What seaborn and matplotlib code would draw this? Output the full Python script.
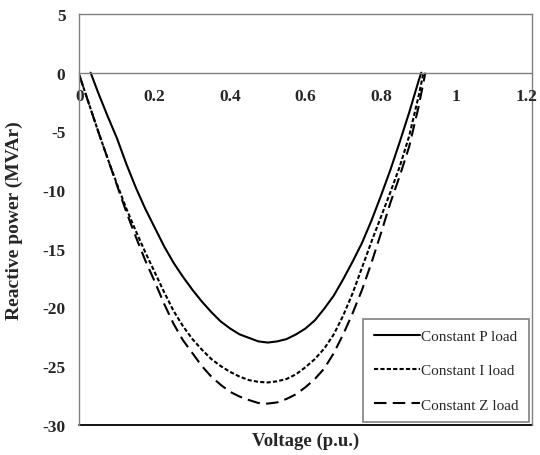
import matplotlib
matplotlib.use("Agg")
import matplotlib.pyplot as plt
import seaborn as sns
import pandas as pd

# ---- data ----
series_names = ["Constant P load", "Constant I load", "Constant Z load"]

v_p = [0.03, 0.05, 0.075, 0.10, 0.125, 0.15, 0.175, 0.20, 0.225, 0.25, 0.275,
       0.30, 0.325, 0.35, 0.375, 0.40, 0.425, 0.45, 0.475, 0.50, 0.525, 0.55,
       0.575, 0.60, 0.625, 0.65, 0.675, 0.70, 0.725, 0.75, 0.775, 0.80, 0.825,
       0.85, 0.875, 0.90, 0.907]
q_p = [0.0, -1.7, -3.7, -5.6, -7.8, -9.8, -11.6, -13.2, -14.8, -16.2, -17.4,
       -18.5, -19.5, -20.4, -21.2, -21.8, -22.3, -22.6, -22.9, -23.0, -22.9, -22.7,
       -22.3, -21.8, -21.1, -20.1, -19.0, -17.6, -16.1, -14.5, -12.6, -10.5, -8.3,
       -5.9, -3.4, -0.7, 0.0]

v_i = [0.0, 0.025, 0.05, 0.075, 0.10, 0.125, 0.15, 0.175, 0.20, 0.225, 0.25,
       0.275, 0.30, 0.325, 0.35, 0.375, 0.40, 0.425, 0.45, 0.475, 0.50, 0.525,
       0.55, 0.575, 0.60, 0.625, 0.65, 0.675, 0.70, 0.725, 0.75, 0.775, 0.80,
       0.825, 0.85, 0.875, 0.90, 0.913]
q_i = [-0.2, -2.6, -5.0, -7.3, -9.5, -11.6, -13.5, -15.3, -17.0, -18.7, -20.3,
       -21.6, -22.7, -23.6, -24.4, -25.0, -25.5, -25.9, -26.2, -26.35, -26.4, -26.3,
       -26.1, -25.7, -25.1, -24.4, -23.5, -22.3, -20.7, -18.8, -16.6, -14.4, -12.3,
       -10.2, -8.0, -5.4, -2.0, 0.0]

v_z = [0.0, 0.025, 0.05, 0.075, 0.10, 0.125, 0.15, 0.175, 0.20, 0.225, 0.25,
       0.275, 0.30, 0.325, 0.35, 0.375, 0.40, 0.425, 0.45, 0.475, 0.50, 0.525,
       0.55, 0.575, 0.60, 0.625, 0.65, 0.675, 0.70, 0.725, 0.75, 0.775, 0.80,
       0.825, 0.85, 0.875, 0.90, 0.918]
q_z = [-0.2, -2.6, -5.0, -7.3, -9.6, -11.9, -14.0, -16.0, -17.8, -19.7, -21.4,
       -22.8, -23.9, -25.0, -25.9, -26.6, -27.2, -27.6, -27.9, -28.15, -28.2, -28.1,
       -27.8, -27.4, -26.8, -26.1, -25.2, -23.9, -22.3, -20.5, -18.5, -16.2, -13.7,
       -11.1, -8.8, -6.3, -2.9, 0.0]

x_ticks = [0, 0.2, 0.4, 0.6, 0.8, 1.0, 1.2]
x_tick_labels = ["0", "0.2", "0.4", "0.6", "0.8", "1", "1.2"]
y_ticks = [-30, -25, -20, -15, -10, -5, 0, 5]
y_tick_labels = ["-30", "-25", "-20", "-15", "-10", "-5", "0", "5"]

# ---- style ----
sns.set_style("white")
plt.rcParams["font.family"] = ["Liberation Serif", "DejaVu Serif"]
plt.rcParams["font.weight"] = "bold"
plt.rcParams["axes.unicode_minus"] = False
plt.rcParams["lines.scale_dashes"] = False

df = pd.concat([
    pd.DataFrame({"V": v_p, "Q": q_p, "Load": series_names[0]}),
    pd.DataFrame({"V": v_i, "Q": q_i, "Load": series_names[1]}),
    pd.DataFrame({"V": v_z, "Q": q_z, "Load": series_names[2]}),
], ignore_index=True)

fig = plt.figure(figsize=(5.4, 4.56), dpi=100)
ax = fig.add_axes([79.3 / 540, 1 - 425.7 / 456, (531.7 - 79.3) / 540, (425.7 - 15) / 456])

dash_map = {
    series_names[0]: "",
    series_names[1]: (3.0, 1.6),
    series_names[2]: (9.0, 4.5),
}
sns.lineplot(data=df, x="V", y="Q", style="Load", style_order=series_names,
             dashes=dash_map, color="black", linewidth=1.5, sort=False,
             estimator=None, ax=ax, legend=False)

tick_size = 12.5
ax.set_xlim(0, 1.2)
ax.set_ylim(-30, 5)
# all x tick labels except the last come from the tick machinery;
# the last one ("1.2") is placed slightly inward so it stays inside the figure
ax.set_xticks(x_ticks)
ax.set_xticklabels(x_tick_labels[:-1] + [""])
ax.annotate(x_tick_labels[-1], xy=(x_ticks[-1], 0), xycoords="data",
            xytext=(-4, -11), textcoords="offset points",
            ha="center", va="top", fontsize=tick_size, fontweight="bold",
            annotation_clip=False)
ax.set_yticks(y_ticks)
ax.set_yticklabels(y_tick_labels)
ax.tick_params(axis="both", length=0, labelsize=tick_size)
ax.tick_params(axis="x", pad=11)
ax.tick_params(axis="y", pad=10)

gray = "#808080"
ax.spines["bottom"].set_position(("data", 0))
for s in ["bottom", "top", "left", "right"]:
    ax.spines[s].set_color(gray)
    ax.spines[s].set_linewidth(1.0)
ax.axhline(-30, color="black", linewidth=1.3, clip_on=False)

ax.set_xlabel("Voltage (p.u.)", fontsize=13.5, fontweight="bold")
ax.xaxis.set_label_coords(0.5, -0.018)
ax.set_ylabel("Reactive power (MVAr)", fontsize=14, fontweight="bold")
ax.yaxis.set_label_coords(-0.125, 0.5)

handles = ax.lines[:3]
leg = ax.legend(handles, series_names, loc="lower right", frameon=True,
                fancybox=False, edgecolor=gray, framealpha=1,
                prop={"weight": "normal", "size": 11},
                handlelength=3.0, handletextpad=0.1, labelspacing=1.35,
                borderpad=0.7, borderaxespad=0.15)
leg.get_frame().set_linewidth(1.2)

fig.savefig("out.png", dpi=100)
